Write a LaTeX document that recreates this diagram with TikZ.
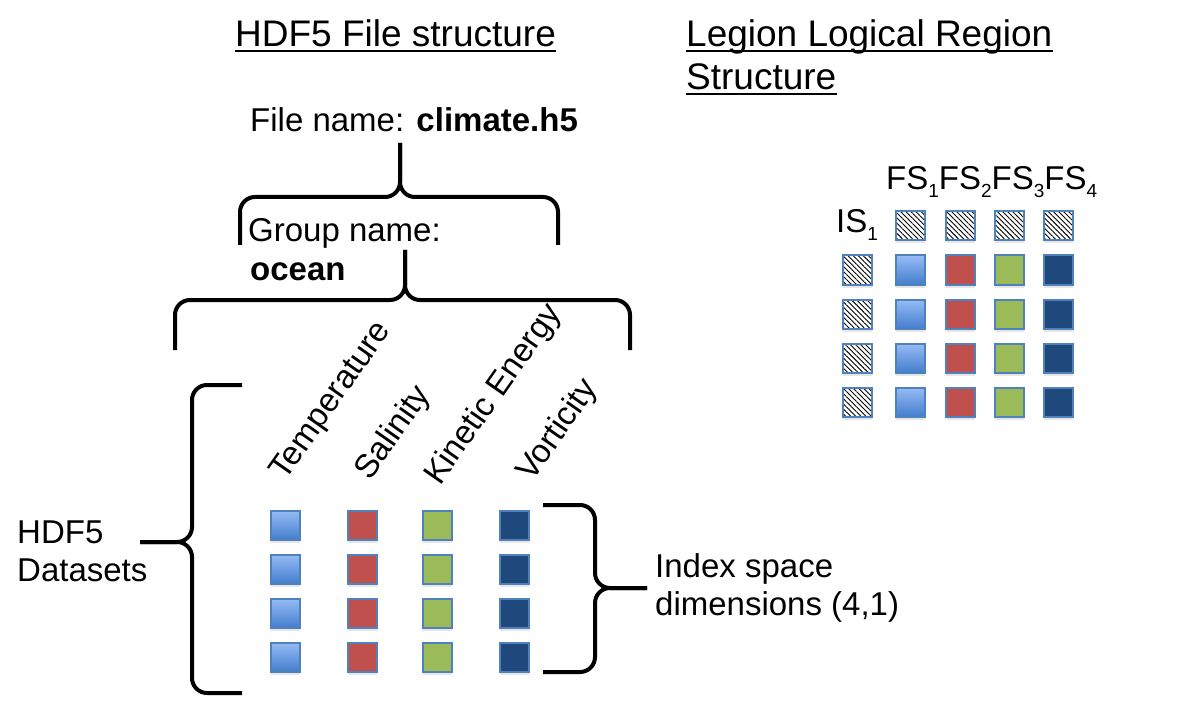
\documentclass[tikz,border=0pt]{standalone}
\usepackage{fontspec}
\setmainfont{Liberation Sans}
\usetikzlibrary{patterns.meta,shadows}
\definecolor{edgeblue}{RGB}{79,129,189}
\definecolor{lightblue}{RGB}{150,188,245}
\definecolor{darkblue}{RGB}{68,126,206}
\definecolor{fsred}{RGB}{192,80,77}
\definecolor{fsgreen}{RGB}{155,187,89}
\definecolor{fsnavy}{RGB}{31,73,125}
\newcommand\subs[1]{\raisebox{-8pt}{\fontsize{19}{19}\selectfont #1}}
\begin{document}
\begin{tikzpicture}[x=1pt,y=-1pt,every node/.style={inner sep=0pt,font=\fontsize{33}{38}\selectfont},
  ttl/.style={font=\fontsize{37}{42}\selectfont},
  sq/.style={minimum size=29pt,draw=edgeblue,line width=2pt,drop shadow={shadow xshift=0pt,shadow yshift=-3pt,opacity=.2}},
  sqb/.style={sq,top color=lightblue,bottom color=darkblue},sqr/.style={sq,fill=fsred},
  sqg/.style={sq,fill=fsgreen},sqn/.style={sq,fill=fsnavy},
  sqh/.style={sq,preaction={fill=white},pattern={Lines[angle=-45,distance=3.6pt,line width=.9pt]}},
  brc/.style={line width=4pt,rounded corners=15pt},lbl/.style={anchor=base west,rotate=55}]
\useasboundingbox (0,0) rectangle (1204,711);
% titles
\node[ttl,anchor=base west] (t1) at (235,47) {HDF5 File structure};
\node[ttl,anchor=base west] (t2) at (686,47) {Legion Logical Region};
\node[ttl,anchor=base west] (t3) at (686,90) {Structure};
\foreach \t in {t1,t2,t3} \draw[line width=2.5pt] ([yshift=-4pt]\t.base west) -- ([yshift=-4pt]\t.base east);
% file / group
\node[anchor=base west] (fn) at (250,132) {File name: \textbf{climate.h5}};
\node[anchor=base west] (gn1) at (248,242) {Group name:};
\node[anchor=base west] (gn2) at (250,280) {\textbf{ocean}};
\draw[brc] (240,245) -- (240,197) -- (400,197) -- (400,143);
\draw[brc] (558,245) -- (558,197) -- (400,197) -- (400,143);
\draw[brc] (175,350) -- (175,300) -- (405,300) -- (405,250);
\draw[brc] (630,350) -- (630,300) -- (405,300) -- (405,250);
% datasets
\node[lbl] (l1) at (285,482) {Temperature};
\node[lbl] (l2) at (370,482) {Salinity};
\node[lbl] (l3) at (440,487) {Kinetic Energy};
\node[lbl] (l4) at (532,483) {Vorticity};
\foreach \i in {0,...,3}{
  \node[sqb] (b\i) at (285,{525+44*\i}) {};\node[sqr] (r\i) at (362,{525+44*\i}) {};
  \node[sqg] (g\i) at (437,{525+44*\i}) {};\node[sqn] (n\i) at (514,{525+44*\i}) {};}
\draw[brc] (242,385) -- (192,385) -- (192,542) -- (140,542);
\draw[brc] (242,693) -- (192,693) -- (192,542) -- (140,542);
\node[anchor=base west] (hd1) at (17,543) {HDF5};
\node[anchor=base west] (hd2) at (17,581) {Datasets};
\draw[brc] (543,505) -- (595,505) -- (595,588) -- (647,588);
\draw[brc] (543,672) -- (595,672) -- (595,588) -- (647,588);
\node[anchor=base west] (ix1) at (655,577) {Index space};
\node[anchor=base west] (ix2) at (655,615) {dimensions (4,1)};
% logical region
\node[anchor=base west] (fs) at (886,190) {FS\subs{1}FS\subs{2}FS\subs{3}FS\subs{4}};
\node[anchor=base west] (is) at (836,233) {IS\subs{1}};
\foreach \x [count=\k] in {910,960,1009,1058} \node[sqh] (h\k) at (\x,226) {};
\foreach \i in {1,...,4}{
  \node[sqh] (v\i) at (857,{226+44*\i}) {};\node[sqb] (fb\i) at (910,{226+44*\i}) {};
  \node[sqr] (fr\i) at (960,{226+44*\i}) {};\node[sqg] (fg\i) at (1009,{226+44*\i}) {};
  \node[sqn] (fn\i) at (1058,{226+44*\i}) {};}
\end{tikzpicture}
\end{document}
